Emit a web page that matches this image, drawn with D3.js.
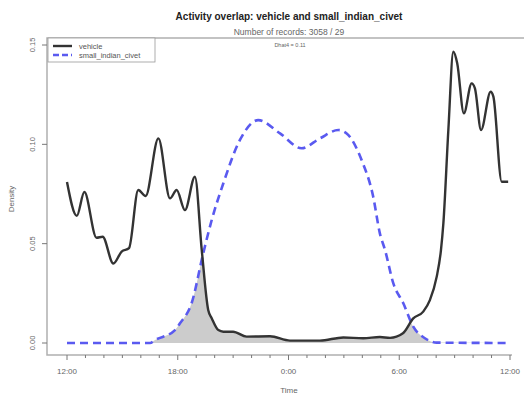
<!DOCTYPE html>
<html>
<head>
<meta charset="utf-8">
<script src="https://cdn.jsdelivr.net/npm/d3@7"></script>
<style>
	body { margin: 0; background: #fff; }
	text { font-family: "Liberation Sans", Arial, sans-serif; }
</style>
</head>
<body>
<div id="chart"></div>
<script>
// Hours after noon (0 = 12:00, 24 = 12:00 next day)
const vehicleHours = [0, 0.53, 0.94, 1.6, 1.93, 2.51, 2.96, 3.36, 3.86, 4.26, 4.95, 5.58, 5.94, 6.39, 6.93, 7.3, 7.65, 7.84, 8.2, 8.47, 9.0, 9.73, 11.0, 12.08, 13.7, 14.97, 16.05, 16.95, 17.5, 18.2, 18.76, 19.3, 19.66, 20.03, 20.26, 20.39, 20.66, 20.93, 21.14, 21.5, 21.92, 22.1, 22.43, 22.95, 23.1, 23.55, 23.9];
const vehicleDensity = [0.081, 0.064, 0.076, 0.053, 0.0535, 0.040, 0.046, 0.0477, 0.077, 0.074, 0.103, 0.0728, 0.077, 0.0669, 0.0837, 0.0468, 0.0166, 0.0125, 0.0065, 0.0057, 0.0057, 0.0032, 0.0034, 0.0012, 0.0012, 0.0028, 0.0024, 0.003, 0.0026, 0.0049, 0.0124, 0.0158, 0.0216, 0.0334, 0.0468, 0.0602, 0.1072, 0.1466, 0.1408, 0.1156, 0.1307, 0.1282, 0.1072, 0.1265, 0.124, 0.0812, 0.0812];

const civetHours = [0, 4.5, 4.77, 5.85, 6.12, 6.75, 7.38, 7.84, 8.47, 9.37, 10.36, 11.54, 12.71, 13.7, 14.7, 15.15, 15.96, 16.59, 16.95, 17.23, 17.68, 18.22, 18.76, 19.39, 20.03, 24];
const civetDensity = [0, 0, 0.0015, 0.0065, 0.0099, 0.02, 0.0451, 0.0619, 0.0804, 0.1022, 0.1122, 0.1055, 0.098, 0.103, 0.1072, 0.1055, 0.0921, 0.0736, 0.0552, 0.0468, 0.030, 0.020, 0.0082, 0.0024, 0.0002, 0];

const xTickHours = [0, 6, 12, 18, 24];
const xTickLabels = ["12:00", "18:00", "0:00", "6:00", "12:00"];
const yTicks = [0, 0.05, 0.1, 0.15];
const seriesNames = ["vehicle", "small_indian_civet"];

const width = 524;
const height = 396;

const svg = d3
	.select("#chart")
	.append("svg")
	.attr("width", width)
	.attr("height", height);

const x = d3.scaleLinear().domain([0, 24]).range([67, 510]);
const y = d3.scaleLinear().domain([0, 0.15]).range([343, 45]);

const vehicle = vehicleHours.map((h, i) => ({ h, d: vehicleDensity[i] }));
const civet = civetHours.map((h, i) => ({ h, d: civetDensity[i] }));

const curve = d3.curveMonotoneX;

// Overlap area: civet area clipped by vehicle area
const area = d3
	.area()
	.x((p) => x(p.h))
	.y0(y(0))
	.y1((p) => y(p.d))
	.curve(curve);

svg
	.append("defs")
	.append("clipPath")
	.attr("id", "vehicle-clip")
	.append("path")
	.attr("d", area(vehicle));

svg
	.append("path")
	.attr("d", area(civet))
	.attr("fill", "#cccccc")
	.attr("clip-path", "url(#vehicle-clip)");

const line = d3
	.line()
	.x((p) => x(p.h))
	.y((p) => y(p.d))
	.curve(curve);

svg
	.append("path")
	.attr("d", line(civet))
	.attr("fill", "none")
	.attr("stroke", "#5a5af0")
	.attr("stroke-width", 2.6)
	.attr("stroke-dasharray", "8,5");

svg
	.append("path")
	.attr("d", line(vehicle))
	.attr("fill", "none")
	.attr("stroke", "#333")
	.attr("stroke-width", 2.4);

// Plot box
svg
	.append("path")
	.attr("d", "M524,38H47V355H512")
	.attr("fill", "none")
	.attr("stroke", "#b0b0b0")
	.attr("stroke-width", 1.5);

// Y axis
const yAxis = svg.append("g").attr("transform", "translate(47,0)");
yAxis
	.selectAll("line")
	.data(yTicks)
	.enter()
	.append("line")
	.attr("x1", 0)
	.attr("x2", -5)
	.attr("y1", (d) => y(d))
	.attr("y2", (d) => y(d))
	.attr("stroke", "#777");
yAxis
	.selectAll("text")
	.data(yTicks)
	.enter()
	.append("text")
	.attr("transform", (d) => `translate(-12,${y(d)}) rotate(-90)`)
	.attr("text-anchor", "middle")
	.attr("font-size", 7.5)
	.attr("fill", "#666")
	.text((d) => d.toFixed(2));

// X axis with hourly minor ticks
const xAxis = svg.append("g").attr("transform", "translate(0,355)");
xAxis
	.selectAll("line")
	.data(d3.range(0, 25))
	.enter()
	.append("line")
	.attr("x1", (d) => x(d))
	.attr("x2", (d) => x(d))
	.attr("y1", 0)
	.attr("y2", (d) => (d % 6 === 0 ? 5 : 3))
	.attr("stroke", "#777");
xAxis
	.selectAll("text")
	.data(xTickHours)
	.enter()
	.append("text")
	.attr("x", (d) => x(d))
	.attr("y", 19)
	.attr("text-anchor", "middle")
	.attr("font-size", 8)
	.attr("fill", "#666")
	.text((d, i) => xTickLabels[i]);

svg
	.append("text")
	.attr("x", 289)
	.attr("y", 393)
	.attr("text-anchor", "middle")
	.attr("font-size", 8)
	.attr("fill", "#666")
	.text("Time");

svg
	.append("text")
	.attr("transform", "translate(14,199) rotate(-90)")
	.attr("text-anchor", "middle")
	.attr("font-size", 8)
	.attr("fill", "#666")
	.text("Density");

// Titles
svg
	.append("text")
	.attr("x", 289)
	.attr("y", 20)
	.attr("text-anchor", "middle")
	.attr("font-size", 10)
	.attr("font-weight", "bold")
	.attr("fill", "#222")
	.text("Activity overlap:  vehicle and small_indian_civet");

svg
	.append("text")
	.attr("x", 289)
	.attr("y", 35)
	.attr("text-anchor", "middle")
	.attr("font-size", 8.5)
	.attr("fill", "#666")
	.text("Number of records: 3058 / 29");

svg
	.append("text")
	.attr("x", 290)
	.attr("y", 47)
	.attr("text-anchor", "middle")
	.attr("font-size", 5.5)
	.attr("fill", "#666")
	.text("Dhat4 = 0.11");

// Legend
const legend = svg.append("g").attr("transform", "translate(48,38)");
legend
	.append("rect")
	.attr("width", 107)
	.attr("height", 24)
	.attr("fill", "#fff")
	.attr("stroke", "#999")
	.attr("stroke-width", 0.8);

const legendRows = legend
	.selectAll("g")
	.data(seriesNames)
	.enter()
	.append("g")
	.attr("transform", (d, i) => `translate(0,${8 + i * 9})`);

legendRows
	.append("line")
	.attr("x1", 5)
	.attr("x2", 24)
	.attr("stroke", (d, i) => (i === 0 ? "#333" : "#5a5af0"))
	.attr("stroke-width", 2.4)
	.attr("stroke-dasharray", (d, i) => (i === 0 ? null : "6,3"));

legendRows
	.append("text")
	.attr("x", 31)
	.attr("y", 2.5)
	.attr("font-size", 7.5)
	.attr("fill", "#555")
	.text((d) => d);
</script>
</body>
</html>
